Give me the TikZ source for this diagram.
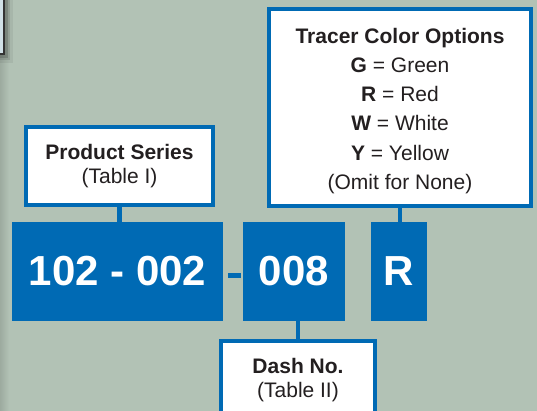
\documentclass[tikz,border=0pt]{standalone}
\usepackage{fontspec}
\setmainfont{Liberation Sans}
\usetikzlibrary{positioning}
\definecolor{bgcol}{RGB}{178,194,181}
\definecolor{partblue}{RGB}{0,106,180}
\definecolor{txtcol}{RGB}{35,31,32}
\definecolor{tabfill}{RGB}{208,224,230}

\begin{document}
\begin{tikzpicture}[x=1pt, y=-1pt,
    infobox/.style={draw=partblue, line width=4pt, fill=white, text=txtcol, align=center,
        font=\fontsize{21}{24}\selectfont, inner sep=0pt},
    codebox/.style={fill=partblue, text=white, font=\fontsize{42}{42}\selectfont\bfseries,
        minimum height=99pt, inner sep=0pt},
    link/.style={draw=partblue, line width=4.5pt}]
    \fill[bgcol] (0,0) rectangle (537,411);
    \clip (0,0) rectangle (537,411);
    \shade[left color=bgcol!88!black, right color=bgcol] (0,0) rectangle (9,411);
    % corner of the table above
    \foreach \s/\o in {8/0.06, 5/0.1, 3/0.15} {
        \fill[black, opacity=\o] (0,0) rectangle (5+\s,55+\s);
    }
    \filldraw[fill=tabfill, draw=black!80, line width=2pt] (-5,-5) rectangle (4,54);

    % code blocks
    \node[codebox, minimum width=211pt] (series code) at (117.5,271.5) {102 - 002};
    \node[codebox, minimum width=102pt] (dash code) at (294,271.5) {008};
    \node[codebox, minimum width=56pt] (color code) at (399,271.5) {R};
    \draw[partblue, line width=5pt] ([xshift=5pt, yshift=-4pt]series code.east)
        -- ([xshift=-2pt, yshift=-4pt]dash code.west);

    % labels
    \node[infobox, minimum width=187pt, minimum height=78pt] (series) at (119.5,166)
        {\textbf{Product Series}\\(Table I)};
    \node[infobox, minimum width=262pt, minimum height=197pt,
        font=\fontsize{21}{29.3}\selectfont] (tracer) at (400,107.5)
        {\rule{0pt}{22pt}\textbf{Tracer Color Options}\\ \textbf{G} = Green\\ \textbf{R} = Red\\
         \textbf{W} = White\\ \textbf{Y} = Yellow\\ (Omit for None)};
    \node[infobox, minimum width=154pt, minimum height=78pt] (dash) at (298,380)
        {\textbf{Dash No.}\\(Table II)};

    \draw[link] (series.south) -- (series.south |- series code.north);
    \draw[link] (tracer.south) -- (tracer.south |- color code.north);
    \draw[link] (dash.north) -- (dash.north |- dash code.south);
\end{tikzpicture}
\end{document}
